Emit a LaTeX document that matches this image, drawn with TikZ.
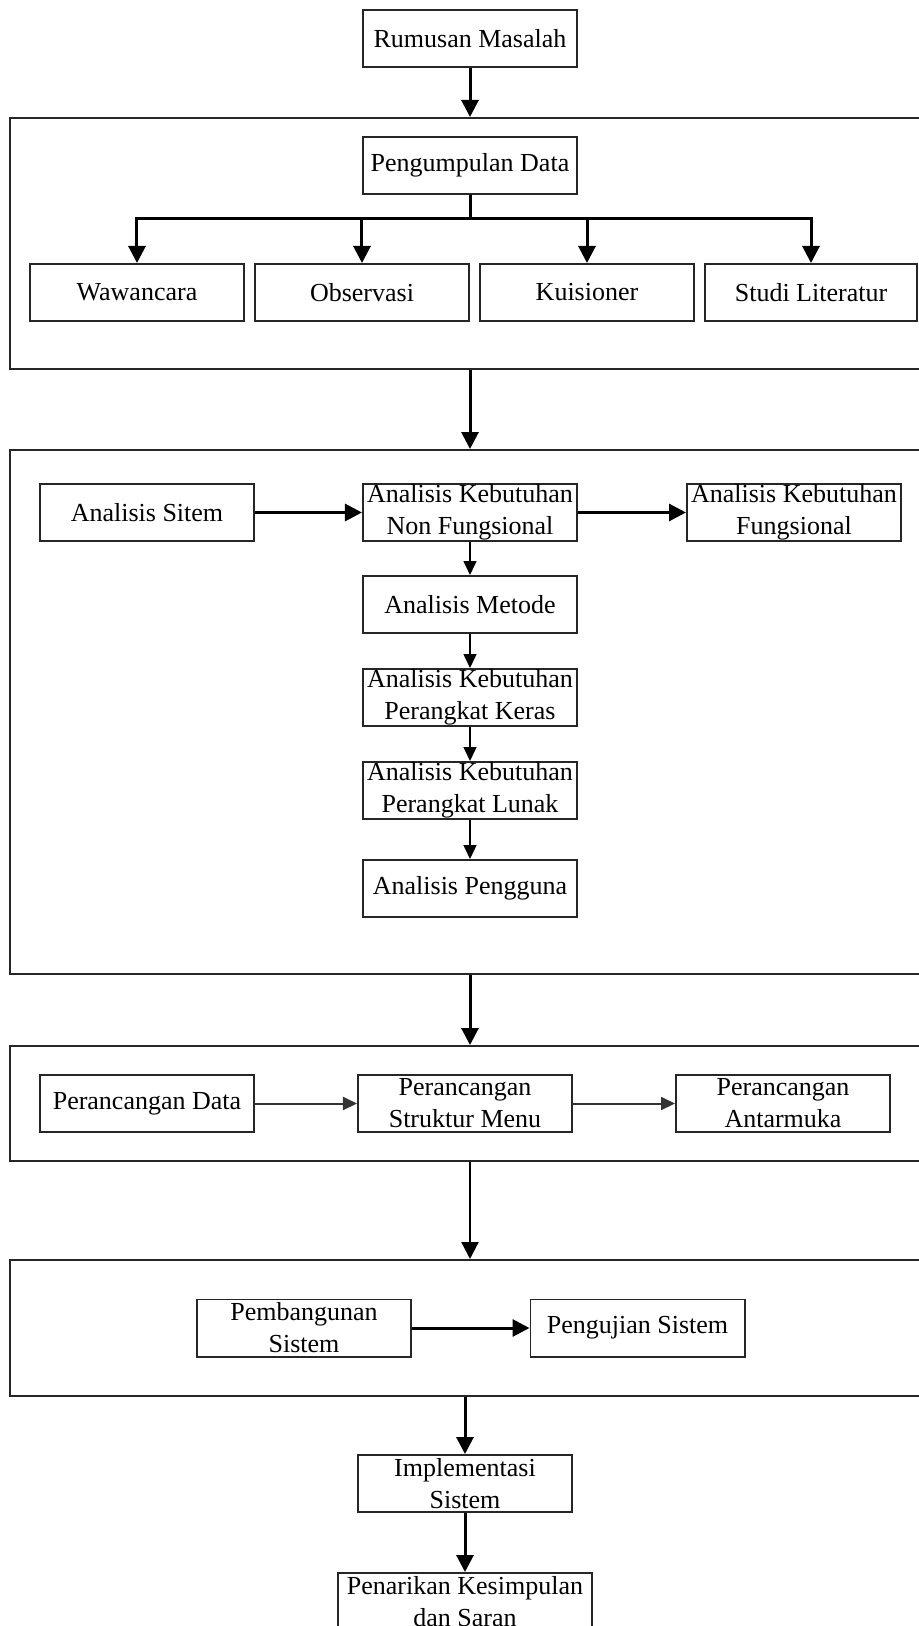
\documentclass[tikz,border=0pt]{standalone}
\usepackage{fontspec}
\setmainfont{Liberation Serif}
\usetikzlibrary{arrows.meta,positioning,calc}

\begin{document}
\begin{tikzpicture}[
  font=\fontsize{13pt}{16pt}\selectfont,
  node distance=17pt and 53.5pt,
  blok/.style   ={draw=black!85,line width=0.9pt,align=center,
                  minimum width=107.1pt,minimum height=28.6pt,
                  inner xsep=2pt,inner ysep=0pt},
  bingkai/.style={draw=black!85,line width=0.9pt,minimum width=460pt,inner sep=0pt},
  tebal/.style  ={line width=1.5pt,-{Triangle[length=8.5pt,width=8.5pt]}},
  sedang/.style ={line width=1pt,draw=black!80,-{Triangle[length=7pt,width=6.5pt]}},
  tipis/.style  ={line width=0.75pt,-{Triangle[length=7pt,width=6.5pt]}}]

% ---------- Rumusan masalah ----------
\node[blok] (rm) {Rumusan Masalah};
\useasboundingbox ($(rm.north)+(-235pt,4.5pt)$) rectangle ++(459.5pt,-813pt);

% ---------- Frame 1 : pengumpulan data ----------
\node[bingkai, minimum height=125.6pt, below=24.5pt of rm] (f1) {};
\node[blok, below=9.5pt of f1.north] (pd) {Pengumpulan Data};
\node[blok, below=34pt of pd.south west] (ob) {Observasi};
\node[blok, left=4.5pt of ob]  (ww) {Wawancara};
\node[blok, right=4.5pt of ob] (ks) {Kuisioner};
\node[blok, right=4.5pt of ks, minimum width=106.1pt] (sl) {Studi Literatur};

\foreach \k in {ww,ob,ks,sl}
  \draw[tebal] (pd.south) -- ++(0pt,-12pt) -| (\k.north);

% ---------- Frame 2 : analisis ----------
\node[bingkai, minimum height=262.1pt, below=39.5pt of f1] (f2) {};
\node[blok, below=17pt of f2.north] (nf) {Analisis Kebutuhan\\Non Fungsional};
\node[blok, left=of nf]      (as) {Analisis Sitem};
\node[blok, right=54pt of nf] (fu) {Analisis Kebutuhan\\Fungsional};
\node[blok, below=16.5pt of nf] (me) {Analisis Metode};
\node[blok, below=of me]  (kk) {Analisis Kebutuhan\\Perangkat Keras};
\node[blok, below=of kk]  (kl) {Analisis Kebutuhan\\Perangkat Lunak};
\node[blok, below=19.5pt of kl] (pg) {Analisis Pengguna};

\draw[tebal] (rm) -- (f1);
\draw[tebal] (f1) -- (f2);
\draw[tebal] (as) -- (nf); \draw[tebal] (nf) -- (fu);
\draw[tipis] (nf) -- (me); \draw[tipis] (me) -- (kk);
\draw[tipis] (kk) -- (kl); \draw[tipis] (kl) -- (pg);

% ---------- Frame 3 : perancangan ----------
\node[bingkai, minimum height=57.6pt, below=35pt of f2] (f3) {};
\node[blok] (psm) at ([xshift=-2.5pt]f3.center) {Perancangan\\Struktur Menu};
\node[blok, left=51pt of psm]  (pdt) {Perancangan Data};
\node[blok, right=51pt of psm] (pa)  {Perancangan\\Antarmuka};

\draw[tebal] (f2) -- (f3);
\draw[sedang] (pdt) -- (psm); \draw[sedang] (psm) -- (pa);

% ---------- Frame 4 : pembangunan ----------
\node[bingkai, minimum height=68.1pt, below=48.5pt of f3] (f4) {};
\node[blok] (pb) at ([xshift=-83pt]f4.center) {Pembangunan\\Sistem};
\node[blok, right=58.75pt of pb] (pu) {Pengujian Sistem};

\draw[tebal,line width=1.2pt] (f3) -- (f4);
\draw[tebal] (pb) -- (pu);

% ---------- Implementasi dan kesimpulan ----------
\node[blok, below=28.5pt of f4.south, xshift=-2.5pt] (im) {Implementasi\\Sistem};
\node[blok, below=29.5pt of im, minimum width=126.6pt] (pk) {Penarikan Kesimpulan\\dan Saran};

\draw[tebal] (f4.south -| im) -- (im);
\draw[tebal] (im) -- (pk);

\end{tikzpicture}
\end{document}
